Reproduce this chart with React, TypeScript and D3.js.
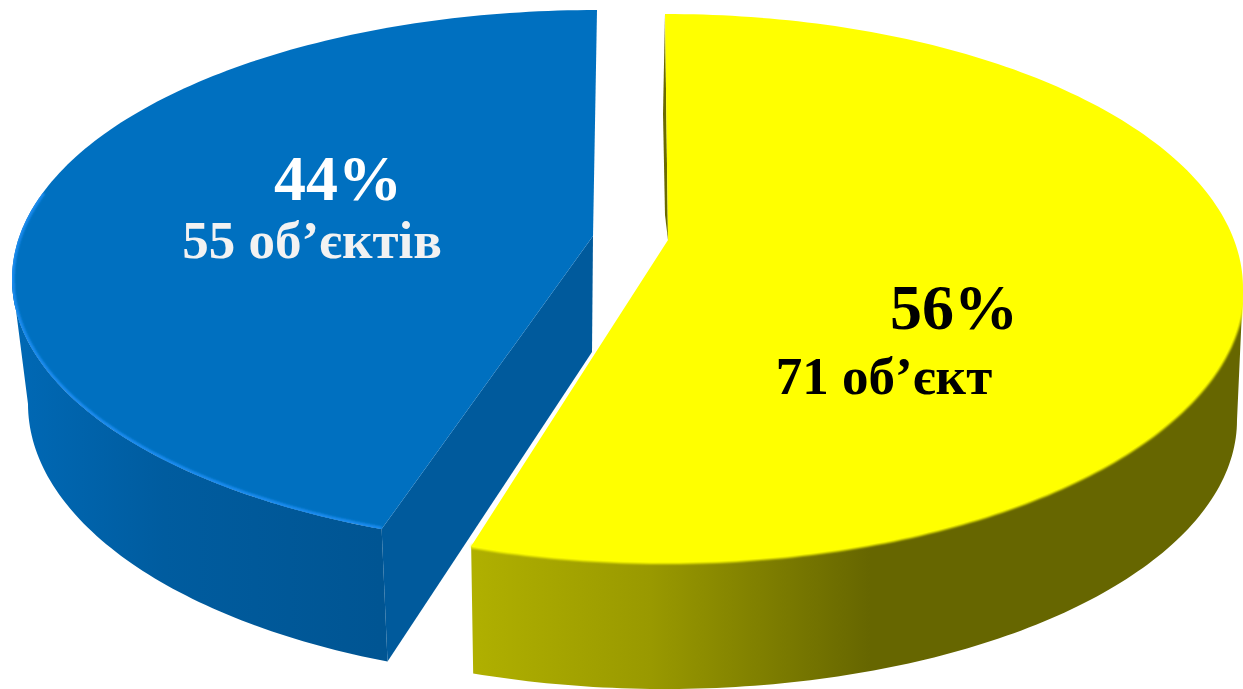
import * as d3 from "d3";

const categories = ["yellow", "blue"];
const shares = [56, 44];
const shareLabels = ["56%", "44%"];
const objectLabels = ["71 об’єкт", "55 об’єктів"];

// where each wedge sits: top face ellipse, bottom face ellipse, apex points (perspective, so not concentric)
// endTrim: the exploded wedge's far corner reads a little short of its true angle
const geometry = [
  {
    top: { cx: 665, cy: 288, rx: 578, ry: 274 },
    bottom: { cx: 665, cy: 420, rx: 572, ry: 269 },
    apex: [668, 240],
    apexLow: [668, 240],
    endTrim: 0.035,
  },
  {
    top: { cx: 597, cy: 279, rx: 585, ry: 269 },
    bottom: { cx: 597, cy: 404, rx: 569, ry: 277 },
    apex: [593, 236],
    apexLow: [592, 352],
    endTrim: 0,
  },
];

const fills = ["#ffff00", "#0070c0"];
const sideFills = ["url(#yellowSide)", "url(#blueSide)"];
const textColors = ["#000000", "#ffffff"];
const subColors = ["#000000", "#f2f2f2"];
const shareLabelPos = [[954, 329], [338, 200]];
const objectLabelPos = [[884, 394], [312, 258]];

const line = d3.line();

const onEllipse = (e, a) => [e.cx + e.rx * Math.sin(a), e.cy - e.ry * Math.cos(a)];

const sweep = (e, a0, a1) => {
  const n = Math.max(2, Math.ceil(Math.abs(a1 - a0) * 60));
  return d3.range(n + 1).map((i) => onEllipse(e, a0 + ((a1 - a0) * i) / n));
};

export default function App() {
  const arcs = d3.pie().sort(null).value((d) => d)(shares);

  const wedge = (i) => {
    const g = geometry[i];
    const s = arcs[i].startAngle;
    const t = arcs[i].endAngle - g.endTrim;
    // only the part of the rim facing the viewer has a side wall
    const v0 = Math.max(s, Math.PI / 2);
    const v1 = Math.min(t, (3 * Math.PI) / 2);
    return {
      topFace: line([g.apex, ...sweep(g.top, s, t)]) + "Z",
      side: line([...sweep(g.top, v0, v1), ...sweep(g.bottom, v1, v0)]) + "Z",
      rim: line(sweep(g.top, v0, v1)),
      s,
      t,
    };
  };

  const y = wedge(0);
  const b = wedge(1);
  const gb = geometry[1];
  const gy = geometry[0];
  const blueWall =
    line([gb.apex, onEllipse(gb.top, b.s), onEllipse(gb.bottom, b.s), gb.apexLow]) + "Z";
  // thin bit of the far wall that peeks out left of the yellow wedge
  const sliverTop = onEllipse(gy.top, y.s);
  const yellowSliver =
    line([sliverTop, gy.apex, [gy.apex[0] - 3, gy.apex[1] - 25], [sliverTop[0] - 2, sliverTop[1] + 100]]) + "Z";
  const blueRim = line(sweep(gb.top, b.s, b.s + (b.t - b.s) * 0.55));

  return (
    <svg
      width={1243}
      height={689}
      viewBox="0 0 1243 689"
      style={{ position: "absolute", left: 0, top: 0, display: "block" }}
    >
      <defs>
        <linearGradient id="yellowSide" gradientUnits="userSpaceOnUse" x1={471} x2={870} y1={0} y2={0}>
          <stop offset="0" stopColor="#b0b000" />
          <stop offset="0.45" stopColor="#999900" />
          <stop offset="1" stopColor="#666600" />
        </linearGradient>
        <linearGradient id="blueSide" gradientUnits="userSpaceOnUse" x1={20} x2={380} y1={0} y2={0}>
          <stop offset="0" stopColor="#0068b4" />
          <stop offset="0.4" stopColor="#005c9f" />
          <stop offset="1" stopColor="#005593" />
        </linearGradient>
        <filter id="soft" x="-5%" y="-5%" width="110%" height="110%">
          <feGaussianBlur stdDeviation="1.3" />
        </filter>
        <clipPath id="blueFace">
          <path d={b.topFace} />
        </clipPath>
      </defs>

      {/* blue wedge */}
      <path d={blueWall} fill="#005a9c" />
      <path d={b.side} fill={sideFills[1]} />
      <path d={b.topFace} fill={fills[1]} />
      <g clipPath="url(#blueFace)">
        <path d={blueRim} fill="none" stroke="#1a8cf0" strokeWidth={5} filter="url(#soft)" />
      </g>

      {/* yellow wedge */}
      <path d={y.side} fill={sideFills[0]} />
      <path d={yellowSliver} fill="#6b6b00" />
      <path d={y.rim} fill="none" stroke={fills[0]} strokeWidth={4} filter="url(#soft)" />
      <path d={y.topFace} fill={fills[0]} />

      <g fontFamily="'Liberation Serif', serif" fontWeight="bold" textAnchor="middle">
        {categories.map((c, i) => (
          <g key={c}>
            <text x={shareLabelPos[i][0]} y={shareLabelPos[i][1]} fontSize={64} fill={textColors[i]}>
              {shareLabels[i]}
            </text>
            <text x={objectLabelPos[i][0]} y={objectLabelPos[i][1]} fontSize={53} fill={subColors[i]}>
              {objectLabels[i]}
            </text>
          </g>
        ))}
      </g>
    </svg>
  );
}
